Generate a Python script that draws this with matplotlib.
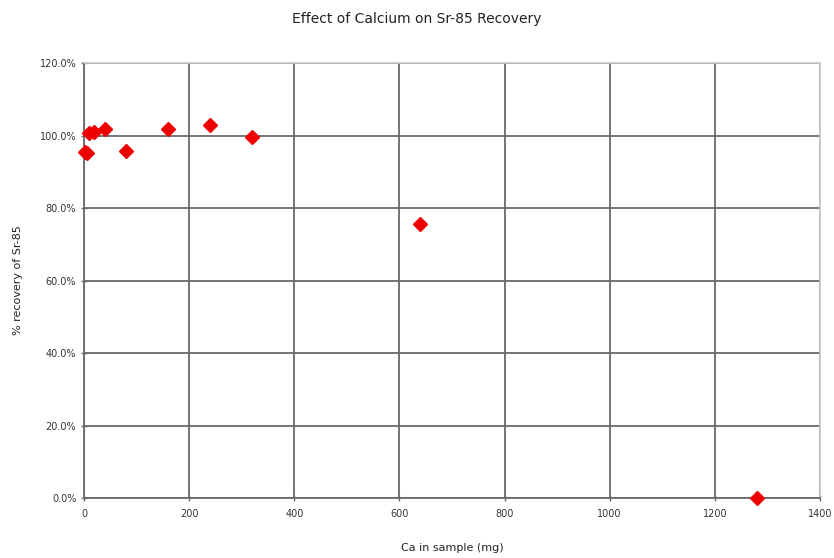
import numpy as np
import matplotlib.pyplot as plt
from matplotlib.ticker import FuncFormatter

ca_mg = [2.5, 5, 10, 20, 40, 80, 160, 240, 320, 640, 1280]
recovery_pct = [95.5, 95.3, 100.8, 100.9, 101.8, 95.8, 101.8, 102.8, 99.5, 75.6, 0.0]

fig = plt.figure(figsize=(8.34, 5.58), dpi=100)
ax = fig.add_axes([0.1007, 0.1075, 0.8825, 0.7795])

ax.plot(ca_mg, recovery_pct, linestyle='none', marker='D', markersize=7.5,
        color='#ee0000', zorder=3, clip_on=False)

ax.set_xlim(0, 1400)
ax.set_ylim(0, 120)
ax.set_xticks(np.arange(0, 1401, 200))
ax.set_yticks(np.arange(0, 121, 20))
ax.yaxis.set_major_formatter(FuncFormatter(lambda v, p: '%.1f%%' % v))
ax.grid(True, color='#6a6a6a', linewidth=1.3)
ax.set_axisbelow(True)

for s in ['top', 'right']:
    ax.spines[s].set_color('#c8c8c8')
    ax.spines[s].set_linewidth(1.2)
for s in ['left', 'bottom']:
    ax.spines[s].set_color('#6a6a6a')
    ax.spines[s].set_linewidth(1.3)

ax.tick_params(axis='both', labelsize=7, colors='#6a6a6a', labelcolor='#333333',
               length=4, width=1.0, direction='inout')
ax.tick_params(axis='x', pad=6)

ax.set_xlabel('Ca in sample (mg)', fontsize=8, color='#222222', labelpad=17)
ax.set_ylabel('% recovery of Sr-85', fontsize=8, color='#222222', labelpad=12)
fig.suptitle('Effect of Calcium on Sr-85 Recovery', fontsize=10, color='#222222',
             y=0.978)

plt.savefig('out.png', dpi=100)
